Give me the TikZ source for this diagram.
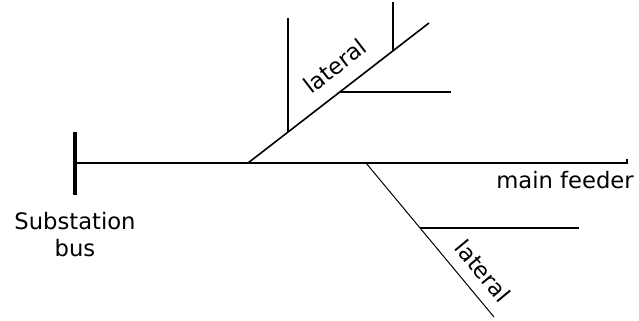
\documentclass[tikz,border=0pt]{standalone}
\usepackage{fontspec}
\setmainfont{DejaVu Sans}
\begin{document}
\begin{tikzpicture}[x=0.75pt,y=-0.75pt,
  busbar/.style={line width=2.4pt},
  feeder/.style={line width=1.5pt},
  upperlat/.style={line width=1.2pt},
  lowerlat/.style={line width=0.75pt},
  branch/.style={line width=1.1pt},
  lbl/.style={inner sep=0pt, font=\fontsize{17}{20.25}\selectfont}]
\useasboundingbox (0,0) rectangle (639,321);

% substation bus and main feeder
\coordinate (bustop) at (75,132);
\coordinate (busbot) at (75,195);
\coordinate (fstart) at (75,163);
\coordinate (fend) at (627,163);
\coordinate (ftick) at (627,159);
\draw[busbar] (bustop) -- (busbot);
\draw[feeder] (fstart) -- (fend) -- (ftick);

% upper lateral with its three taps
\coordinate (j1) at (248,163);
\coordinate (l1) at (429,23);
\coordinate (b1) at (288,132);
\coordinate (b1e) at (288,18);
\coordinate (b2) at (393,51);
\coordinate (b2e) at (393,2);
\coordinate (b3) at (340,92);
\coordinate (b3e) at (451,92);
\draw[upperlat] (j1) -- (l1);
\draw[branch] (b1) -- (b1e);
\draw[branch] (b2) -- (b2e);
\draw[branch] (b3) -- (b3e);

% lower lateral with one tap
\coordinate (j2) at (366,163);
\coordinate (l2) at (494,317);
\coordinate (b4) at (420,228);
\coordinate (b4e) at (579,228);
\draw[lowerlat] (j2) -- (l2);
\draw[branch] (b4) -- (b4e);

% labels
\node[lbl, anchor=north, align=center] (buslbl) at (75,212) {Substation\\bus};
\node[lbl, anchor=base] (feederlbl) at (565,188) {main feeder};
\node[lbl, rotate=37.7] (latup) at (335,66) {lateral};
\node[lbl, rotate=-50.3] (latdown) at (483,271) {lateral};
\end{tikzpicture}
\end{document}
